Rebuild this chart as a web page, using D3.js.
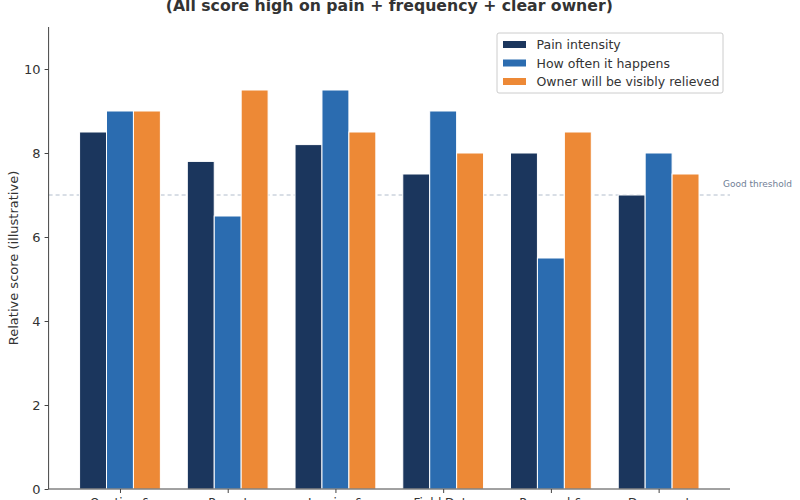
<!DOCTYPE html>
<html>
<head>
<meta charset="utf-8">
<script src="https://cdn.jsdelivr.net/npm/d3@7"></script>
<style>
  html, body { margin: 0; padding: 0; background: #fff; }
  svg { display: block; font-family: "DejaVu Sans", sans-serif; }
</style>
</head>
<body>
<svg id="chart" width="800" height="500"></svg>
<script>
const categories = ["Quoting &", "Report", "Invoice &", "Field Data", "Proposal &", "Document"];
const seriesNames = ["Pain intensity", "How often it happens", "Owner will be visibly relieved"];
const painIntensity = [8.5, 7.8, 8.2, 7.5, 8.0, 7.0];
const howOften = [9.0, 6.5, 9.5, 9.0, 5.5, 8.0];
const ownerRelieved = [9.0, 9.5, 8.5, 8.0, 8.5, 7.5];
const yTicks = [0, 2, 4, 6, 8, 10];
const thresholdValue = 7;
const thresholdLabel = "Good threshold";
const titleText = "(All score high on pain + frequency + clear owner)";
const yLabel = "Relative score (illustrative)";
const colors = ["#1b365d", "#2b6cb0", "#ed8936"];

const seriesValues = [painIntensity, howOften, ownerRelieved];

const svg = d3.select("#chart");
const pLeft = 48.6, pRight = 730, pTop = 27, pBottom = 489;

const x = d3.scalePoint().domain(categories).range([pLeft, pRight]).padding(0.6625);
const step = x.step();
const xs = d3.scaleBand().domain(seriesNames).range([-0.375 * step, 0.375 * step]).padding(0);
const y = d3.scaleLinear().domain([0, 11]).range([pBottom, pTop]);

// threshold line
svg.append("line")
  .attr("x1", pLeft).attr("x2", pRight)
  .attr("y1", y(thresholdValue)).attr("y2", y(thresholdValue))
  .attr("stroke", "#a0aec0").attr("stroke-width", 1)
  .attr("stroke-dasharray", "4,3").attr("opacity", 0.8);

// bars
seriesNames.forEach((s, si) => {
  svg.append("g").selectAll("rect")
    .data(categories.map((c, i) => ({ c, v: seriesValues[si][i] })))
    .join("rect")
    .attr("x", d => x(d.c) + xs(s))
    .attr("width", xs.bandwidth())
    .attr("y", d => y(d.v))
    .attr("height", d => y(0) - y(d.v))
    .attr("fill", colors[si])
    .attr("stroke", "#fff")
    .attr("stroke-width", 1);
});

// threshold label
svg.append("text")
  .attr("x", 723).attr("y", y(thresholdValue) - 8)
  .attr("font-size", 9).attr("fill", "#718096")
  .text(thresholdLabel);

// axes
const yAxis = d3.axisLeft(y).tickValues(yTicks).tickSize(4).tickPadding(4);
const gy = svg.append("g").attr("transform", `translate(${pLeft},0)`).call(yAxis);
gy.select(".domain").attr("stroke", "#444").attr("d", `M0,${pTop}V${pBottom}`);
gy.selectAll(".tick line").attr("stroke", "#444");
gy.selectAll(".tick text").attr("font-size", 13).attr("fill", "#333").attr("font-family", "DejaVu Sans");

const xAxis = d3.axisBottom(x).tickSize(4).tickPadding(5);
const gx = svg.append("g").attr("transform", `translate(0,${pBottom})`).call(xAxis);
gx.select(".domain").attr("stroke", "#444").attr("d", `M${pLeft},0H${pRight}`);
gx.selectAll(".tick line").attr("stroke", "#444");
gx.selectAll(".tick text").attr("font-size", 12).attr("fill", "#333").attr("font-family", "DejaVu Sans");

// y label
svg.append("text")
  .attr("transform", `translate(18,${(pTop + pBottom) / 2}) rotate(-90)`)
  .attr("text-anchor", "middle")
  .attr("font-size", 13).attr("fill", "#333")
  .text(yLabel);

// title
svg.append("text")
  .attr("x", (pLeft + pRight) / 2).attr("y", 11)
  .attr("text-anchor", "middle")
  .attr("font-size", 15.7).attr("font-weight", "bold").attr("fill", "#333")
  .text(titleText);

// legend
const lg = svg.append("g").attr("transform", "translate(497,33)");
lg.append("rect").attr("width", 226).attr("height", 60).attr("rx", 2)
  .attr("fill", "#fff").attr("fill-opacity", 0.8)
  .attr("stroke", "#ccc").attr("stroke-width", 1);
seriesNames.forEach((s, i) => {
  const ry = 8 + i * 18.5;
  lg.append("rect").attr("x", 6).attr("y", ry).attr("width", 23).attr("height", 7).attr("fill", colors[i]);
  lg.append("text").attr("x", 39.5).attr("y", ry + 8).attr("font-size", 12.5).attr("fill", "#333").text(s);
});
</script>
</body>
</html>
